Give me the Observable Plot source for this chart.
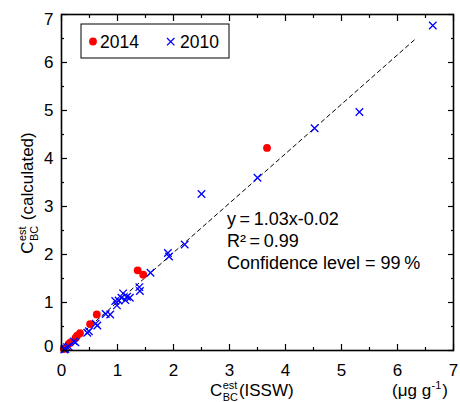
<!DOCTYPE html>
<html><head><meta charset="utf-8">
<script src="https://cdn.jsdelivr.net/npm/d3@7"></script>
<script src="https://cdn.jsdelivr.net/npm/@observablehq/plot@0.6"></script>
<style>
body{margin:0;background:#fff;}
svg{font-family:Arial,"Liberation Sans",sans-serif;}
</style>
</head><body><div id="chart"></div>
<script>
// ---- data ----
const seriesNames = ["2014", "2010"];
const x2014 = [0.04, 0.06, 0.13, 0.16, 0.25, 0.28, 0.33, 0.51, 0.63, 1.36, 1.46, 3.67];
const y2014 = [0.03, 0.05, 0.14, 0.17, 0.26, 0.31, 0.36, 0.55, 0.75, 1.67, 1.58, 4.22];
const x2010 = [0.05, 0.07, 0.10, 0.13, 0.22, 0.25, 0.46, 0.49, 0.61, 0.64, 0.79, 0.87,
               0.96, 0.99, 1.02, 1.07, 1.10, 1.14, 1.17, 1.22, 1.39, 1.40, 1.59, 1.90,
               1.92, 2.20, 2.50, 3.50, 4.52, 5.32, 6.63];
const y2010 = [0.02, 0.03, 0.07, 0.08, 0.19, 0.17, 0.37, 0.40, 0.56, 0.52, 0.76, 0.75,
               1.03, 0.94, 1.04, 1.10, 1.19, 1.05, 1.12, 1.10, 1.32, 1.24, 1.62, 2.03,
               1.96, 2.21, 3.26, 3.60, 4.63, 4.97, 6.77];
const fitSlope = 1.03, fitIntercept = -0.02;
const fitXRange = [0.02, 6.32];
const majorTicks = [0, 1, 2, 3, 4, 5, 6, 7];
const minorTicks = [0.5, 1.5, 2.5, 3.5, 4.5, 5.5, 6.5];
const annotationLines = ["y\u2009=\u20091.03x-0.02", "R\u00b2\u2009=\u20090.99", "Confidence level = 99\u2009%"];
const colors = {"2014": "#ff0000", "2010": "#0000ff"};

// ---- tables ----
const pts2014 = x2014.map((x, i) => ({x, y: y2014[i]}));
const pts2010 = x2010.map((x, i) => ({x, y: y2010[i]}));
const fitLine = fitXRange.map(x => ({x, y: fitSlope * x + fitIntercept}));
const yInner = majorTicks.slice(1, -1);
const yFirst = majorTicks.slice(0, 1);
const yLast = majorTicks.slice(-1);

const ax = {label: null, strokeWidth: 1.2, fill: "none"};
const yl = {label: null, anchor: "left", tickSize: 0, tickPadding: 8, fontSize: 17, fill: "black", tickFormat: d => d};
const chart = Plot.plot({
  width: 460, height: 402,
  marginLeft: 61, marginRight: 7, marginTop: 14, marginBottom: 52,
  x: {domain: [0, 7], label: null},
  y: {domain: [0, 7], label: null},
  style: {fontFamily: "Arial, 'Liberation Sans', sans-serif", fontSize: "17px", color: "black", background: "white", overflow: "visible"},
  marks: [
    Plot.line(fitLine, {x: "x", y: "y", stroke: "black", strokeWidth: 1, strokeDasharray: "4,3.5"}),
    Plot.dot(pts2014, {x: "x", y: "y", r: 3.9, fill: colors["2014"], stroke: "none"}),
    Plot.dot(pts2010, {x: "x", y: "y", r: 3.5, symbol: "times", stroke: colors["2010"], strokeWidth: 1.3}),
    // inward ticks
    Plot.axisX(majorTicks, {...ax, anchor: "bottom", tickSize: 6, dy: -6}),
    Plot.axisX(minorTicks, {...ax, anchor: "bottom", tickSize: 3, dy: -3}),
    Plot.axisX(majorTicks, {...ax, anchor: "top", tickSize: 6, dy: 6}),
    Plot.axisX(minorTicks, {...ax, anchor: "top", tickSize: 3, dy: 3}),
    Plot.axisY(majorTicks, {...ax, anchor: "left", tickSize: 6, dx: 6}),
    Plot.axisY(minorTicks, {...ax, anchor: "left", tickSize: 3, dx: 3}),
    Plot.axisY(majorTicks, {...ax, anchor: "right", tickSize: 6, dx: -6}),
    Plot.axisY(minorTicks, {...ax, anchor: "right", tickSize: 3, dx: -3}),
    // tick labels
    Plot.axisX(majorTicks, {label: null, anchor: "bottom", tickSize: 0, tickPadding: 13, fontSize: 17, fill: "black", tickFormat: d => d}),
    Plot.axisY(yInner, yl),
    Plot.axisY(yFirst, {...yl, dy: -4}),
    Plot.axisY(yLast, {...yl, dy: 5}),
    Plot.frame({stroke: "black", strokeWidth: 1.6})
  ]
});
document.getElementById("chart").appendChild(chart);

const svg = d3.select(chart);

// rich text helper: parts of {t} or {sup, sub}
function richText(g, parts, size) {
  g.attr("text-anchor", "start");
  let x = 0;
  for (const p of parts) {
    if (p.t !== undefined) {
      const el = g.append("text").attr("x", x).attr("y", 0).attr("font-size", size).attr("fill", "black").text(p.t);
      x += el.node().getComputedTextLength();
    } else {
      const s = size * 0.64;
      let w = 0;
      if (p.sup) {
        const e = g.append("text").attr("x", x + 0.5).attr("y", -size * 0.42).attr("font-size", s).attr("fill", "black").text(p.sup);
        w = Math.max(w, e.node().getComputedTextLength());
      }
      if (p.sub) {
        const e = g.append("text").attr("x", x + 0.5).attr("y", size * 0.3).attr("font-size", s).attr("fill", "black").text(p.sub);
        w = Math.max(w, e.node().getComputedTextLength());
      }
      x += w + 1.5;
    }
  }
  return x;
}

// x-axis title
const gx = svg.append("g").attr("transform", "translate(210,396)");
richText(gx, [{t: "C"}, {sup: "est", sub: "BC"}, {t: "(ISSW)"}], 17);
const gu = svg.append("g").attr("transform", "translate(392,396)");
richText(gu, [{t: "(\u03bcg g"}, {sup: "-1"}, {t: ")"}], 17);

// y-axis title (rotated)
const gy = svg.append("g");
const gyi = gy.append("g");
const wy = richText(gyi, [{t: "C"}, {sup: "est", sub: "BC"}, {t: " (calculated)"}], 17);
gy.attr("transform", `translate(33,${193 + wy / 2}) rotate(-90)`);

// annotation
const ga = svg.append("g").attr("text-anchor", "start");
annotationLines.forEach((s, i) => {
  ga.append("text").attr("x", 227).attr("y", 225 + i * 22).attr("font-size", 18).attr("fill", "black").text(s);
});

// legend
const lg = svg.append("g").attr("text-anchor", "start");
lg.append("rect").attr("x", 81).attr("y", 24).attr("width", 148).attr("height", 34)
  .attr("fill", "white").attr("stroke", "black").attr("stroke-width", 1);
lg.append("circle").attr("cx", 93).attr("cy", 41.5).attr("r", 3.9).attr("fill", colors["2014"]);
lg.append("text").attr("x", 100).attr("y", 47.5).attr("font-size", 17.5).attr("fill", "black").text(seriesNames[0]);
lg.append("path").attr("d", "M167,38L174.4,45.4M167,45.4L174.4,38").attr("stroke", colors["2010"]).attr("stroke-width", 1.3);
lg.append("text").attr("x", 180).attr("y", 47.5).attr("font-size", 17.5).attr("fill", "black").text(seriesNames[1]);
</script>
</body></html>
